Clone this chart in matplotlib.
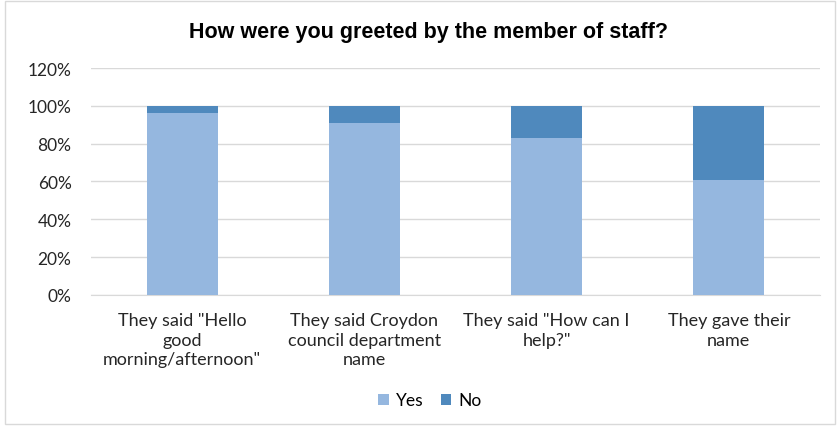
import matplotlib
matplotlib.use("Agg")
import matplotlib.pyplot as plt
from matplotlib.ticker import PercentFormatter
from matplotlib.patches import Rectangle

categories = ['They said "Hello\ngood\nmorning/afternoon"',
              'They said Croydon\ncouncil department\nname',
              'They said "How can I\nhelp?"',
              'They gave their\nname']
yes = [96, 91, 83, 61]
no = [4, 9, 17, 39]

plt.rcParams['font.family'] = ['Lato', 'DejaVu Sans']

fig = plt.figure(figsize=(8.38, 4.27), dpi=100)
ax = fig.add_axes([0.1086, 0.3068, 0.8699, 0.5316])

x = list(range(len(categories)))
w = 0.39
ax.bar(x, yes, width=w, color='#95B7DF', label='Yes', zorder=3)
ax.bar(x, no, width=w, bottom=yes, color='#4F89BD', label='No', zorder=3)

ax.set_xlim(-0.5, len(categories) - 0.5)
ax.set_ylim(0, 120)
ax.set_yticks(range(0, 121, 20))
ax.yaxis.set_major_formatter(PercentFormatter(decimals=0))
ax.grid(axis='y', color='#D9D9D9', linewidth=1, zorder=0)
ax.set_xticks(x)
ax.set_xticklabels(categories, fontsize=13, color='#262626', linespacing=1.3)
ax.tick_params(axis='both', length=0, labelsize=12.5, colors='#262626')
ax.tick_params(axis='x', pad=12, labelsize=13)
ax.tick_params(axis='y', pad=14)
for s in ['top', 'right', 'left']:
    ax.spines[s].set_visible(False)
ax.spines['bottom'].set_color('#D9D9D9')

fig.text(0.511, 0.925, 'How were you greeted by the member of staff?',
         ha='center', va='center', fontsize=15.5, fontweight='bold',
         family=['Liberation Sans', 'DejaVu Sans'])

fig.legend(loc='center', bbox_to_anchor=(0.513, 0.06), ncol=2, frameon=False,
           fontsize=12.5, handlelength=0.6, handleheight=0.6, columnspacing=1.0,
           handletextpad=0.4)

fig.patches.append(Rectangle((0.006, 0.005), 0.99, 0.99, transform=fig.transFigure,
                             fill=False, edgecolor='#D9D9D9', linewidth=1))

fig.savefig('out.png', dpi=100)
